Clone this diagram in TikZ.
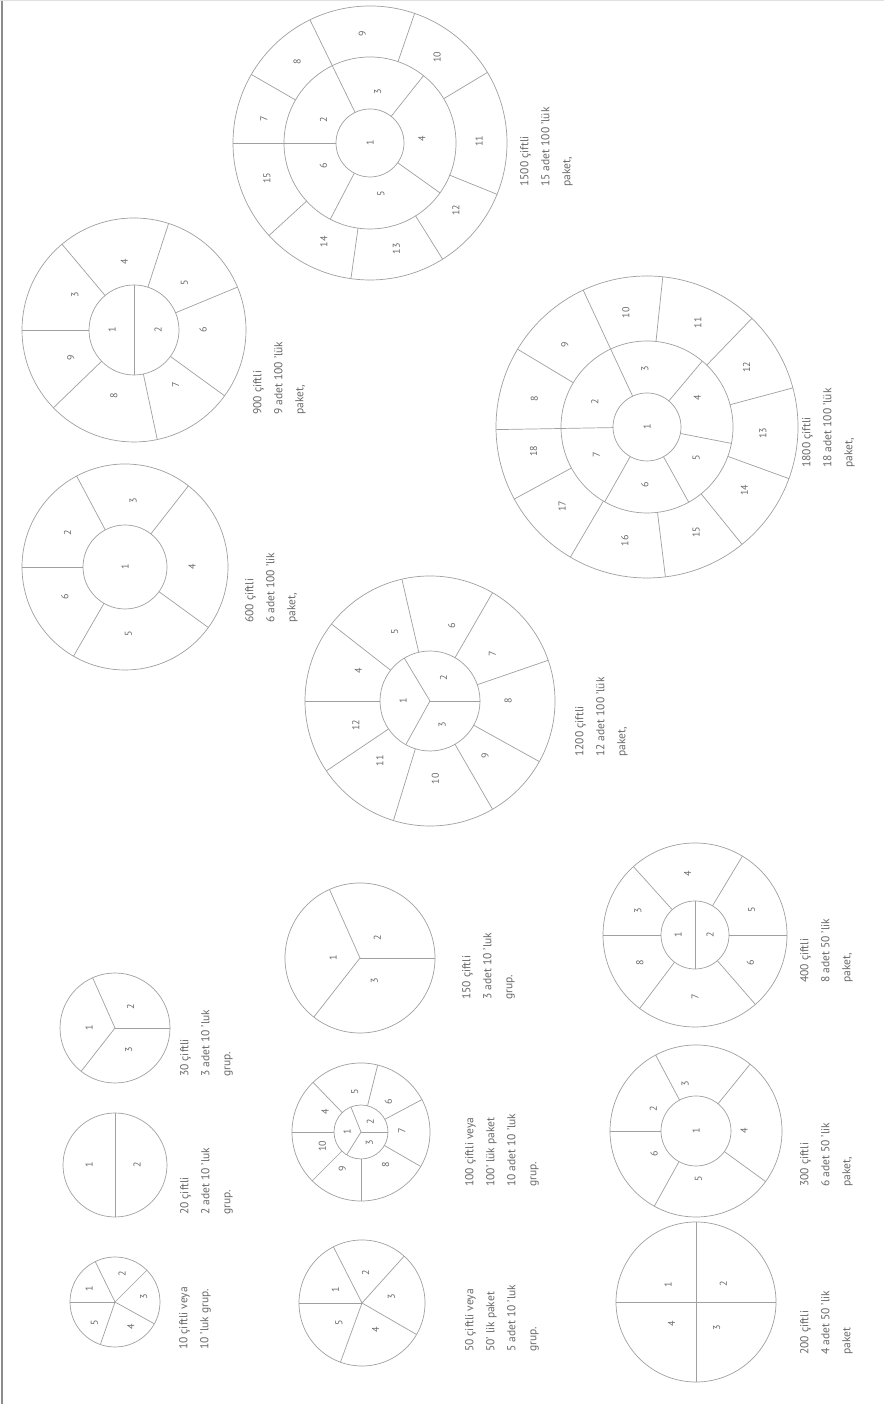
\documentclass[tikz,border=0pt]{standalone}
\usepackage{fontspec}
\setmainfont{PT Sans}
\definecolor{linegray}{RGB}{160,160,160}
\definecolor{txtgray}{RGB}{105,105,105}
\tikzset{
  ring/.style={draw=linegray, line width=0.7pt},
  num/.style={text=txtgray, font=\fontsize{10}{12}\selectfont, rotate=90, inner sep=0pt},
  note/.style={text=txtgray, font=\fontsize{11.5}{21}\selectfont, rotate=90, inner sep=0pt, align=left, anchor=north west}
}
\begin{document}
\begin{tikzpicture}[x=1pt,y=1pt]
\useasboundingbox (0,0) rectangle (884,1404);
\fill[white] (0,0) rectangle (884,1404);
\draw[black!45, line width=2pt] (2,0) -- (2,1404);
\draw[black!12, line width=1pt] (0,1403.5) -- (884,1403.5);
% centres
\coordinate (A) at (115,102);
\coordinate (B) at (115,239);
\coordinate (C) at (115,376);
\coordinate (D) at (362,101);
\coordinate (E) at (361,272);
\coordinate (F) at (360,446);
\coordinate (G) at (696,102);
\coordinate (H) at (696,273);
\coordinate (I) at (695,469);
\coordinate (J) at (125,837);
\coordinate (K) at (134,1074);
\coordinate (L) at (430,703);
\coordinate (M) at (370,1261);
\coordinate (N) at (647,977);
% 10
\draw[ring] (A) circle (45pt);
\foreach \a in {180,116,45,-29,-109} \draw[ring] (A) -- ([shift={(\a:45)}]A);
\foreach \a/\n in {153/1,76/2,10/3,-57/4,-135/5} \node[num] (A\n) at ([shift={(\a:29)}]A) {\n};
\node[note] (tA) at (179,54) {10 çiftli veya\\10 'luk grup.};
% 20
\draw[ring] (B) circle (52pt);
\draw[ring] ([shift={(90:52)}]B) -- ([shift={(270:52)}]B);
\node[num] (B1) at ([shift={(180:26)}]B) {1};
\node[num] (B2) at ([shift={(0:22)}]B) {2};
\node[note] (tB) at (180,189) {20 çiftli\\2 adet 10 'luk\\grup.};
% 30
\draw[ring] (C) circle (55pt);
\foreach \a in {0,114,232} \draw[ring] (C) -- ([shift={(\a:55)}]C);
\foreach \a/\n in {180/1,53/2,-58/3} \node[num] (C\n) at ([shift={(\a:26)}]C) {\n};
\node[note] (tC) at (180,327) {30 çiftli\\3 adet 10 'luk\\grup.};
% 50
\draw[ring] (D) circle (63pt);
\foreach \a in {180,117,48,-30,-110} \draw[ring] (D) -- ([shift={(\a:63)}]D);
\foreach \a/\n in {153/1,83/2,12/3,-63/4,-140/5} \node[num] (D\n) at ([shift={(\a:30)}]D) {\n};
\node[note] (tD) at (465,52) {50 çiftli veya\\50' lik paket\\5 adet 10 'luk\\grup.};
% 100
\draw[ring] (E) circle (69pt) (E) circle (27pt);
\foreach \a in {0,112,238} \draw[ring] (E) -- ([shift={(\a:27)}]E);
\foreach \a in {180,134,76,28,-30,-90,-135} \draw[ring] ([shift={(\a:27)}]E) -- ([shift={(\a:69)}]E);
\foreach \a/\n in {180/1,49/2,-53/3} \node[num] (E\n) at ([shift={(\a:14)}]E) {\n};
\foreach \a/\n in {151/4,99/5,48/6,2/7,-53/8,-117/9,-160/10} \node[num] (E\n) at ([shift={(\a:41)}]E) {\n};
\node[note] (tE) at (465,217) {100 çiftli veya\\100' lük paket\\10 adet 10 'luk\\grup.};
% 150
\draw[ring] (F) circle (75pt);
\foreach \a in {0,114,232} \draw[ring] (F) -- ([shift={(\a:75)}]F);
\foreach \a/\n in {180/1,50/2,-58/3} \node[num] (F\n) at ([shift={(\a:27)}]F) {\n};
\node[note] (tF) at (462,404) {150 çiftli\\3 adet 10 'luk\\grup.};
% 200
\draw[ring] (G) circle (80pt);
\draw[ring] ([shift={(90:80)}]G) -- ([shift={(270:80)}]G);
\draw[ring] ([shift={(180:80)}]G) -- ([shift={(0:80)}]G);
\foreach \a/\n in {148/1,34/2,-51/3,-138/4} \node[num] (G\n) at ([shift={(\a:33)}]G) {\n};
\node[note] (tG) at (800,49) {200 çiftli\\4 adet 50 'lik\\paket};
% 300
\draw[ring] (H) circle (86pt) (H) circle (35pt);
\foreach \a in {180,118,51,-36,-119} \draw[ring] ([shift={(\a:35)}]H) -- ([shift={(\a:86)}]H);
\node[num] (H1) at (H) {1};
\foreach \a/\n in {153/2,103/3,0/4,-87/5,-151/6} \node[num] (H\n) at ([shift={(\a:48)}]H) {\n};
\node[note] (tH) at (800,217) {300 çiftli\\6 adet 50 'lik\\paket,};
% 400
\draw[ring] (I) circle (92pt) (I) circle (34pt);
\draw[ring] ([shift={(90:34)}]I) -- ([shift={(270:34)}]I);
\foreach \a in {180,132,59,0,-49,-127} \draw[ring] ([shift={(\a:34)}]I) -- ([shift={(\a:92)}]I);
\node[num] (I1) at ([shift={(180:17)}]I) {1};
\node[num] (I2) at ([shift={(0:15)}]I) {2};
\foreach \a/\n in {157/3,97/4,24/5,-27/6,-90/7,-153/8} \node[num] (I\n) at ([shift={(\a:62)}]I) {\n};
\node[note] (tI) at (800,421) {400 çiftli\\8 adet 50 'lik\\paket,};
% 600
\draw[ring] (J) circle (103pt) (J) circle (42pt);
\foreach \a in {180,118,52,-36,-120} \draw[ring] ([shift={(\a:42)}]J) -- ([shift={(\a:103)}]J);
\node[num] (J1) at (J) {1};
\foreach \a/\n in {149/2,83/3,0/4,-87/5,-154/6} \node[num] (J\n) at ([shift={(\a:67)}]J) {\n};
\node[note] (tJ) at (245,781) {600 çiftli\\6 adet 100 'lik\\paket,};
% 900
\draw[ring] (K) circle (112pt) (K) circle (45pt);
\draw[ring] ([shift={(90:45)}]K) -- ([shift={(270:45)}]K);
\foreach \a in {180,130,72,22.5,-36,-78,-136} \draw[ring] ([shift={(\a:45)}]K) -- ([shift={(\a:112)}]K);
\node[num] (K1) at ([shift={(180:22)}]K) {1};
\node[num] (K2) at ([shift={(0:24)}]K) {2};
\foreach \a/\n in {149/3,98/4,43/5,0/6,-53/7,-107/8,-156/9} \node[num] (K\n) at ([shift={(\a:69)}]K) {\n};
\node[note] (tK) at (253,989) {900 çiftli\\9 adet 100 'lük\\paket,};
% 1200
\draw[ring] (L) circle (125pt) (L) circle (50pt);
\foreach \a in {0,121,-119} \draw[ring] (L) -- ([shift={(\a:50)}]L);
\foreach \a in {180,142,103,60,19,-29,-60,-107,-146} \draw[ring] ([shift={(\a:50)}]L) -- ([shift={(\a:125)}]L);
\foreach \a/\n in {180/1,60/2,-63/3} \node[num] (L\n) at ([shift={(\a:27)}]L) {\n};
\foreach \a/\n in {157/4,117/5,74/6,37/7,0/8,-45/9,-86/10,-130/11,-162/12} \node[num] (L\n) at ([shift={(\a:78)}]L) {\n};
\node[note] (tL) at (575,647) {1200 çiftli\\12 adet 100 'lük\\paket,};
% 1500
\draw[ring] (M) circle (137pt) (M) circle (86pt) (M) circle (34pt);
\draw[ring] ([shift={(180:34)}]M) -- ([shift={(180:137)}]M);
\foreach \a in {116,51.5,-35.5,-117.5} \draw[ring] ([shift={(\a:34)}]M) -- ([shift={(\a:86)}]M);
\foreach \a in {150,116,71,31,-22,-58,-98,-137.5} \draw[ring] ([shift={(\a:86)}]M) -- ([shift={(\a:137)}]M);
\node[num] (M1) at (M) {1};
\foreach \a/\n in {153/2,81.5/3,5/4,-78/5,-154/6} \node[num] (M\n) at ([shift={(\a:52)}]M) {\n};
\foreach \a/\n in {167/7,132/8,94/9,52/10,1/11,-38/12,-76/13,-115/14,-161/15} \node[num] (M\n) at ([shift={(\a:109)}]M) {\n};
\node[note] (tM) at (520,1217) {1500 çiftli\\15 adet 100 'lük\\paket,};
% 1800
\draw[ring] (N) circle (151pt) (N) circle (86pt) (N) circle (34pt);
\draw[ring] ([shift={(181:34)}]N) -- ([shift={(181:151)}]N);
\foreach \a in {115,50,-11,-61,-119.5} \draw[ring] ([shift={(\a:34)}]N) -- ([shift={(\a:86)}]N);
\foreach \a in {149,115,84,46,15,-20,-51,-83,-120.5,-151.5} \draw[ring] ([shift={(\a:86)}]N) -- ([shift={(\a:151)}]N);
\node[num] (N1) at (N) {1};
\foreach \a/\n in {154/2,92/3,30/4,-32/5,-92/6,-151/7} \node[num] (N\n) at ([shift={(\a:58)}]N) {\n};
\foreach \a/\n in {166/8,135/9,100.5/10,64/11,31/12,-3/13,-33/14,-65/15,-101/16,-137/17,-168/18} \node[num] (N\n) at ([shift={(\a:116)}]N) {\n};
\node[note] (tN) at (802,936) {1800 çiftli\\18 adet 100 'lük\\paket,};
\end{tikzpicture}
\end{document}
